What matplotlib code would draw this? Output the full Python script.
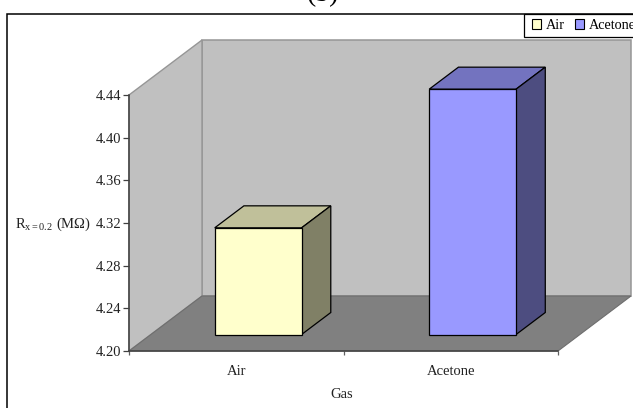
import matplotlib
matplotlib.use("Agg")
import matplotlib.pyplot as plt
from matplotlib.patches import Patch, Polygon, Rectangle

plt.rcParams['font.family'] = ['Liberation Serif', 'DejaVu Serif']

categories = ['Air', 'Acetone']
values = [4.30, 4.43]
y_ticks = [4.20, 4.24, 4.28, 4.32, 4.36, 4.40, 4.44]
front_colors = ['#ffffcc', '#9999ff']
top_colors = ['#c0c09a', '#7373bf']
side_colors = ['#808066', '#4d4d80']

W, H = 633, 408
fig = plt.figure(figsize=(W / 100, H / 100), dpi=100)

# frame of the chart, runs off the right and bottom of the picture
fig.add_artist(Rectangle((7 / W, -0.05), 1.0, 1.05 - 14 / H, transform=fig.transFigure,
                         fc='white', ec='black', lw=1.1, zorder=-1))

ax = fig.add_axes([129 / W, 1 - 351 / H, (558 - 129) / W, (351 - 95) / H])
ax.patch.set_alpha(0)
ax.set_xlim(0, 2)
ax.set_ylim(4.20, 4.44)

# oblique view: depth 1 is the back wall
DX = 73 / 214.5
DY = 55 * 0.04 / 42.67


def pr(x, y, d):
    return (x + DX * d, y + DY * d)


def face(points, fc, ec, lw=0.9, z=2):
    ax.add_patch(Polygon([pr(*p) for p in points], closed=True, fc=fc, ec=ec, lw=lw,
                         clip_on=False, zorder=z, joinstyle='miter'))


y0, y1 = 4.20, 4.44
# back wall, side wall, floor
face([(0, y0, 1), (2, y0, 1), (2, y1, 1), (0, y1, 1)], '#c0c0c0', '#969696', 1.1, 1)
face([(0, y0, 0), (0, y0, 1), (0, y1, 1), (0, y1, 0)], '#c0c0c0', '#969696', 1.0, 1)
face([(0, y0, 0), (2, y0, 0), (2, y0, 1), (0, y0, 1)], '#808080', '#6e6e6e', 0.8, 1)

bar_w = 0.405
d0, d1 = 0.3, 0.7
for i, v in enumerate(values):
    xa = i + 0.5 - bar_w / 2
    xb = i + 0.5 + bar_w / 2
    face([(xa, v, d0), (xb, v, d0), (xb, v, d1), (xa, v, d1)], top_colors[i], 'black', z=3)
    face([(xb, y0, d0), (xb, y0, d1), (xb, v, d1), (xb, v, d0)], side_colors[i], 'black', z=3)
    face([(xa, y0, d0), (xb, y0, d0), (xb, v, d0), (xa, v, d0)], front_colors[i], 'black', z=4)

for s in ['top', 'right']:
    ax.spines[s].set_visible(False)
for s in ['left', 'bottom']:
    ax.spines[s].set_color('#404040')
    ax.spines[s].set_linewidth(1.1)
    ax.spines[s].set_zorder(5)

ax.set_yticks(y_ticks)
ax.set_yticklabels([f'{t:.2f}' for t in y_ticks])
ax.set_xticks([0, 1, 2])
ax.set_xticklabels([])
ax.set_xticks([0.5, 1.5], minor=True)
ax.set_xticklabels(categories, minor=True)
ax.tick_params(axis='y', labelsize=10.5, length=4, width=0.9, pad=1.5, color='#404040', labelcolor='#222222')
ax.tick_params(axis='x', which='major', length=3, width=0.9, color='#606060')
ax.tick_params(axis='x', which='minor', length=0, labelsize=10.5, pad=10, labelcolor='#222222')

fig.text(15 / W, 1 - 224 / H, r'R$_{\mathregular{x=0.2}}$ (M$\mathregular{\Omega}$)', fontsize=10.5,
         va='center', ha='left', color='#222222', math_fontfamily='stix')
fig.text(342 / W, 1 - 395 / H, 'Gas', fontsize=10.5, va='center', ha='center', color='#222222')
# title is cut by the top of the picture in the reference too
fig.text(323 / W, 1 - 1.5 / H, '(b)', fontsize=20, va='baseline', ha='center', color='black')

# legend box is its own rectangle, the reference has more side padding than top padding
fig.add_artist(Rectangle((524 / W, 1 - 37 / H), 0.2, 23 / H, transform=fig.transFigure,
                         fc='white', ec='black', lw=0.9, zorder=9))
handles = [Patch(fc=c, ec='black', lw=0.8) for c in front_colors]
leg = fig.legend(handles, categories, ncol=2, loc='center left', bbox_to_anchor=(524 / W, 1 - 25.5 / H),
                 borderaxespad=0, fontsize=10.3, frameon=False, handlelength=0.66, handleheight=0.66,
                 handletextpad=0.32, columnspacing=0.68, borderpad=0.55)
leg.set_zorder(10)

fig.savefig('out.png', dpi=100)
